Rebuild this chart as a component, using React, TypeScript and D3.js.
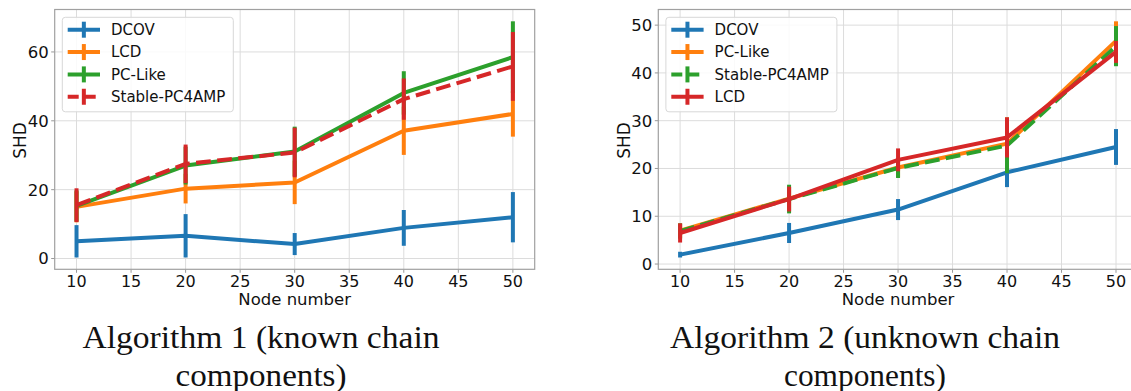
import React from 'react';
import * as d3 from 'd3';

const nodes = [10, 20, 30, 40, 50];
const xTicks = [10, 15, 20, 25, 30, 35, 40, 45, 50];

// Algorithm 1 (known chain components)
const dcovA = [5.0, 6.6, 4.2, 8.9, 12.0];
const dcovAErr = [4.7, 6.3, 3.2, 5.2, 7.3];
const lcdA = [15.0, 20.3, 22.1, 37.1, 42.0];
const lcdAErr = [4.5, 4.3, 6.3, 7.0, 6.6];
const pcLikeA = [15.3, 27.0, 31.1, 48.1, 58.5];
const pcLikeAErr = [4.5, 5.5, 7.2, 6.3, 10.4];
const stableA = [15.5, 27.5, 30.8, 46.3, 55.8];
const stableAErr = [4.9, 5.6, 7.2, 6.0, 10.0];
const yTicksA = [0, 20, 40, 60];

// Algorithm 2 (unknown chain components)
const dcovB = [1.97, 6.5, 11.4, 19.2, 24.5];
const dcovBErr = [0.6, 2.1, 2.2, 3.1, 3.75];
const pcLikeB = [7.0, 13.7, 20.2, 25.2, 46.7];
const pcLikeBErr = [1.5, 2.5, 2.0, 5.5, 4.1];
const stableB = [6.9, 13.6, 20.1, 24.8, 45.6];
const stableBErr = [1.6, 3.0, 2.1, 5.8, 4.2];
const lcdB = [6.5, 13.6, 21.8, 26.5, 44.4];
const lcdBErr = [2.0, 2.6, 2.4, 4.2, 2.3];
const yTicksB = [0, 10, 20, 30, 40, 50];

const BLUE = '#1f77b4';
const ORANGE = '#ff7f0e';
const GREEN = '#2ca02c';
const RED = '#d62728';
const FONT = '"DejaVu Sans", sans-serif';

type Series = { name: string; values: number[]; err: number[]; color: string; dashed?: boolean };

const seriesA: Series[] = [
  { name: 'DCOV', values: dcovA, err: dcovAErr, color: BLUE },
  { name: 'LCD', values: lcdA, err: lcdAErr, color: ORANGE },
  { name: 'PC-Like', values: pcLikeA, err: pcLikeAErr, color: GREEN },
  { name: 'Stable-PC4AMP', values: stableA, err: stableAErr, color: RED, dashed: true },
];

const seriesB: Series[] = [
  { name: 'DCOV', values: dcovB, err: dcovBErr, color: BLUE },
  { name: 'PC-Like', values: pcLikeB, err: pcLikeBErr, color: ORANGE },
  { name: 'Stable-PC4AMP', values: stableB, err: stableBErr, color: GREEN, dashed: true },
  { name: 'LCD', values: lcdB, err: lcdBErr, color: RED },
];

const Panel = ({ series, yTicks, left, right, labelX, title1, title2, titleX, t1Len, t2Len }: any) => {
  const top = 9.5;
  const bottom = 269.3;
  const x = d3.scaleLinear().domain([8, 52]).range([left, right]);
  const lo = d3.min(series as Series[], (s) => d3.min(s.values, (v, i) => v - s.err[i])) as number;
  const hi = d3.max(series as Series[], (s) => d3.max(s.values, (v, i) => v + s.err[i])) as number;
  const pad = (hi - lo) * 0.05;
  const y = d3.scaleLinear().domain([lo - pad, hi + pad]).range([bottom, top]);
  const line = d3.line<number>().x((_, i) => x(nodes[i])).y((v) => y(v));
  const lx = left + 7.6;
  const ly = 17.3;

  return (
    <g>
      {xTicks.map((t) => (
        <g key={'x' + t}>
          <line x1={x(t)} x2={x(t)} y1={top} y2={bottom} stroke="#dcdcdc" strokeWidth={1} />
          <line x1={x(t)} x2={x(t)} y1={bottom} y2={bottom + 3.5} stroke="#999" strokeWidth={1} />
          <text x={x(t)} y={286.5} textAnchor="middle" fontFamily={FONT} fontSize={16} fill="#111">{t}</text>
        </g>
      ))}
      {yTicks.map((t: number) => (
        <g key={'y' + t}>
          <line x1={left} x2={right} y1={y(t)} y2={y(t)} stroke="#dcdcdc" strokeWidth={1} />
          <line x1={left - 3.5} x2={left} y1={y(t)} y2={y(t)} stroke="#999" strokeWidth={1} />
          <text x={left - 6} y={y(t)} dy="0.36em" textAnchor="end" fontFamily={FONT} fontSize={16.5} fill="#111">{t}</text>
        </g>
      ))}
      <rect x={left} y={top} width={right - left} height={bottom - top} fill="none" stroke="#a0a0a0" strokeWidth={1.2} />

      {(series as Series[]).map((s) => (
        <g key={s.name}>
          {s.values.map((v, i) => (
            <line key={i} x1={x(nodes[i])} x2={x(nodes[i])} y1={y(v - s.err[i])} y2={y(v + s.err[i])}
              stroke={s.color} strokeWidth={4} />
          ))}
          <path d={line(s.values) || ''} fill="none" stroke={s.color} strokeWidth={4}
            strokeDasharray={s.dashed ? '14.8 6.4' : undefined} strokeLinejoin="round" />
        </g>
      ))}

      <rect x={left + 7.6} y={ly} width={171} height={94.5} rx={3} fill="#fff" fillOpacity={0.85} stroke="#d8d8d8" strokeWidth={1} />
      {(series as Series[]).map((s, i) => {
        const cy = ly + 12.4 + i * 22.35;
        const hx = lx + 5.4;
        return (
          <g key={'lg' + s.name}>
            <line x1={hx} x2={hx + 32.3} y1={cy} y2={cy} stroke={s.color} strokeWidth={4}
              strokeDasharray={s.dashed ? '11 6' : undefined} />
            <line x1={hx + 16.15} x2={hx + 16.15} y1={cy - 8} y2={cy + 8} stroke={s.color} strokeWidth={4} />
            <text x={lx + 48.7} y={cy} dy="0.36em" fontFamily={FONT} fontSize={15} fill="#111">{s.name}</text>
          </g>
        );
      })}

      <text x={(left + right) / 2} y={305} textAnchor="middle" fontFamily={FONT} fontSize={16.5} fill="#111">Node number</text>
      <text transform={`translate(${labelX},140.5) rotate(-90)`} textAnchor="middle" dy="0.36em" fontFamily={FONT} fontSize={17} fill="#111">SHD</text>

      <text x={titleX} y={348} textAnchor="middle" fontFamily='"Liberation Serif", serif' fontSize={32}
        textLength={t1Len} lengthAdjust="spacingAndGlyphs" fill="#111">{title1}</text>
      <text x={titleX} y={385.5} textAnchor="middle" fontFamily='"Liberation Serif", serif' fontSize={32}
        textLength={t2Len} lengthAdjust="spacingAndGlyphs" fill="#111">{title2}</text>
    </g>
  );
};

export default function App() {
  return (
    <svg width={1131} height={391} style={{ position: 'absolute', left: 0, top: 0, background: '#fff' }}>
      <rect width={1131} height={391} fill="#fff" />
      <Panel series={seriesA} yTicks={yTicksA} left={54.7} right={534.7} labelX={20}
        title1="Algorithm 1 (known chain" title2="components)" titleX={261} t1Len={357} t2Len={171} />
      <Panel series={seriesB} yTicks={yTicksB} left={658.3} right={1137.8} labelX={623.7}
        title1="Algorithm 2 (unknown chain" title2="components)" titleX={865} t1Len={390} t2Len={162} />
    </svg>
  );
}
